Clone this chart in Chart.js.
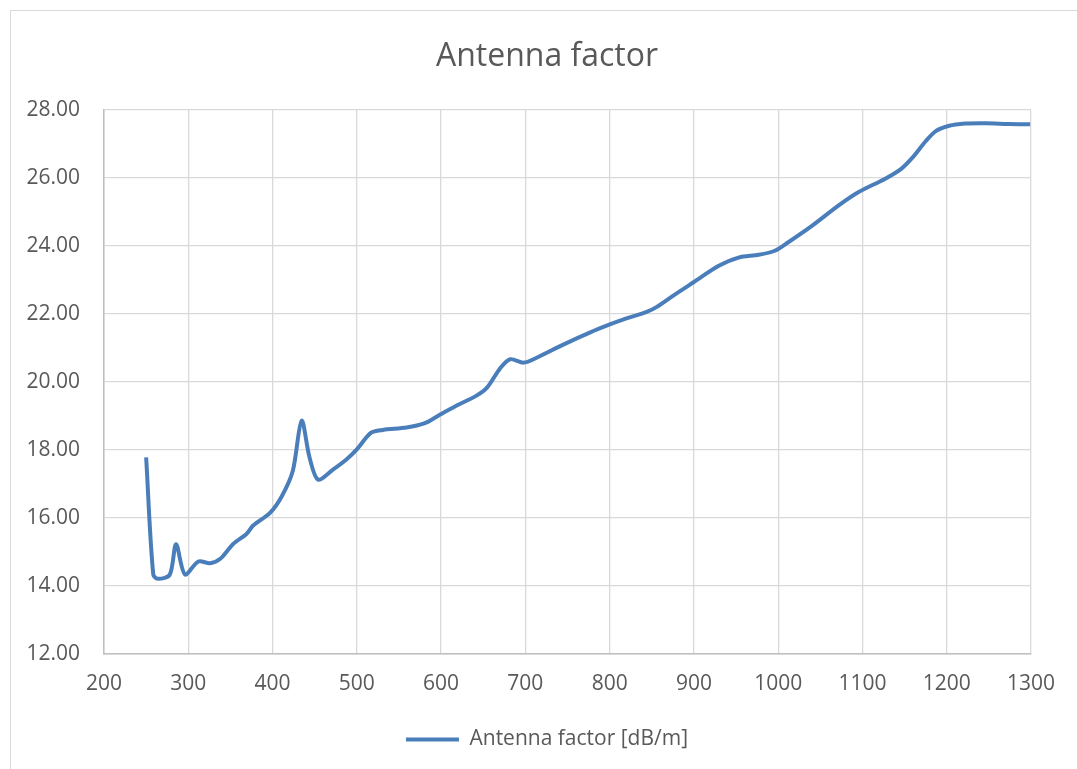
<!DOCTYPE html>
<html>
<head>
<meta charset="utf-8">
<script src="https://cdn.jsdelivr.net/npm/chart.js@4/dist/chart.umd.min.js"></script>
<style>
  html, body { margin: 0; padding: 0; background: #ffffff; overflow: hidden; width: 1077px; height: 769px; }
  #frame { position: absolute; left: 10px; top: 10px; width: 1200px; height: 900px; border-left: 1px solid #d9d9d9; border-top: 1px solid #d9d9d9; }
  #wrap { position: absolute; left: 0; top: 0; width: 1094px; height: 769px; }
</style>
</head>
<body>
<div id="frame"></div>
<div id="wrap"><canvas id="c" width="1094" height="769"></canvas></div>
<script>
const chartTitle = 'Antenna factor';
const seriesName = 'Antenna factor [dB/m]';
const frequency = [250, 258.5, 264.5, 278, 285.5, 296, 312, 326, 338, 353, 369, 377, 397, 411, 424, 434.5, 444, 454, 472, 488, 500, 517, 531, 559, 580, 598, 618, 642, 655, 670, 682, 698, 714, 745, 777, 801, 820, 844, 856, 876, 900, 929, 953, 977, 996, 1012, 1040, 1071, 1095, 1127, 1146, 1159, 1175, 1187, 1202, 1222, 1246, 1273, 1299];
const antennaFactor = [17.78, 14.33, 14.21, 14.33, 15.23, 14.34, 14.72, 14.67, 14.80, 15.23, 15.53, 15.78, 16.15, 16.64, 17.38, 18.86, 17.77, 17.13, 17.43, 17.73, 18.02, 18.51, 18.59, 18.66, 18.78, 19.03, 19.30, 19.60, 19.85, 20.40, 20.67, 20.57, 20.72, 21.10, 21.46, 21.70, 21.87, 22.06, 22.21, 22.55, 22.94, 23.41, 23.66, 23.74, 23.86, 24.11, 24.59, 25.18, 25.58, 25.98, 26.27, 26.59, 27.08, 27.38, 27.53, 27.60, 27.61, 27.59, 27.58];
const xTickValues = [200, 300, 400, 500, 600, 700, 800, 900, 1000, 1100, 1200, 1300];
const yTickValues = [12, 14, 16, 18, 20, 22, 24, 26, 28];

const points = frequency.map((f, i) => ({ x: f, y: antennaFactor[i] }));
const textColor = '#595959';
const fontFamily = "'Open Sans', sans-serif";
const lineColor = '#4A7EBB';

new Chart(document.getElementById('c'), {
  type: 'line',
  data: {
    datasets: [{
      label: seriesName,
      data: points,
      borderColor: lineColor,
      backgroundColor: lineColor,
      borderWidth: 4,
      pointRadius: 0,
      pointStyle: 'line',
      tension: 0.3,
      fill: false,
      yAxisID: 'y'
    }]
  },
  options: {
    responsive: false,
    animation: false,
    layout: { padding: { left: 0, right: 0, top: 0, bottom: 9 } },
    plugins: {
      tooltip: { enabled: false },
      title: {
        display: true,
        text: chartTitle,
        color: textColor,
        font: { family: fontFamily, size: 32, weight: 'normal' },
        padding: { top: 38, bottom: 33.6 }
      },
      legend: {
        position: 'bottom',
        labels: {
          color: textColor,
          font: { family: fontFamily, size: 21 },
          usePointStyle: true,
          pointStyleWidth: 53,
          boxHeight: 4,
          padding: 10
        }
      }
    },
    scales: {
      x: {
        type: 'linear',
        min: 200, max: 1300,
        afterBuildTicks: s => { s.ticks = xTickValues.map(v => ({ value: v })); },
        afterFit: s => { s.height = 65; },
        grid: { color: '#d9d9d9', lineWidth: 1.3, drawTicks: false },
        border: { color: '#bfbfbf', width: 1.5 },
        ticks: { color: textColor, font: { family: fontFamily, size: 21 }, padding: 17, maxRotation: 0, autoSkip: false, callback: v => String(v) }
      },
      y: {
        type: 'linear',
        position: 'left',
        min: 12, max: 28,
        afterBuildTicks: s => { s.ticks = yTickValues.map(v => ({ value: v })); },
        afterFit: s => { s.width = 104; },
        grid: { color: '#d9d9d9', lineWidth: 1.3, drawTicks: false },
        border: { color: '#bfbfbf', width: 1.5 },
        ticks: { color: textColor, font: { family: fontFamily, size: 21 }, padding: 24, callback: v => Number(v).toFixed(2) }
      },
      spacer: {
        type: 'linear',
        position: 'right',
        min: 12, max: 28,
        afterFit: s => { s.width = 63; },
        grid: { display: false, drawTicks: false },
        border: { display: false },
        ticks: { display: false }
      }
    }
  }
});
</script>
</body>
</html>
